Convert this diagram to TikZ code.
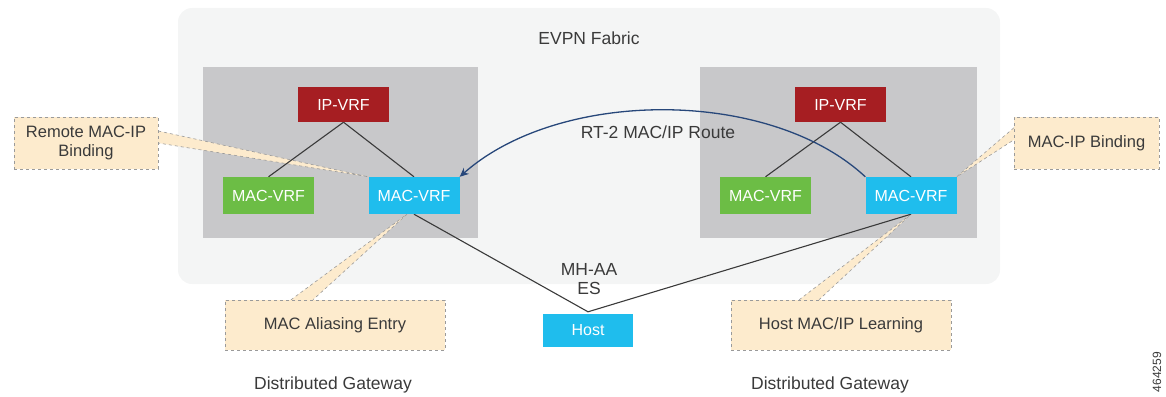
\documentclass[tikz,border=0pt]{standalone}
\usepackage{fontspec}
\setmainfont{Liberation Sans}
\usetikzlibrary{arrows.meta,calc,backgrounds}

\definecolor{fabricbg}{HTML}{F4F5F5}
\definecolor{gwgray}{HTML}{C8C8CA}
\definecolor{ipred}{HTML}{A61E22}
\definecolor{macgreen}{HTML}{6CBD45}
\definecolor{macblue}{HTML}{1FBDED}
\definecolor{callfill}{HTML}{FDEBCD}
\definecolor{callline}{HTML}{9A9A9A}
\definecolor{routeblue}{HTML}{27477A}
\definecolor{txtgray}{HTML}{3A3A3A}

\tikzset{
    vrf/.style={minimum width=91pt,minimum height=37pt,inner sep=0pt,text=white,
        font=\fontsize{16}{19}\selectfont},
    ipvrf/.style={vrf,fill=ipred,minimum height=35pt},
    macg/.style={vrf,fill=macgreen},
    macb/.style={vrf,fill=macblue},
    callout/.style={draw=callline,dashed,fill=callfill,text=txtgray,inner sep=0pt,
        align=center,font=\fontsize{16.5}{19}\selectfont},
    calltail/.style={draw=callline,dashed,fill=callfill,line width=0.6pt},
    wire/.style={draw=txtgray,line width=1.1pt},
    txt/.style={text=txtgray,align=center,font=\fontsize{17.5}{20}\selectfont}
}

\begin{document}
\begin{tikzpicture}[x=1pt,y=-1pt]
    \useasboundingbox (0,0) rectangle (1166,396);
    \begin{pgfonlayer}{background}
        \fill[fabricbg,rounded corners=14pt] (178,8) rectangle (1000,284);
        \fill[gwgray] (203,67) rectangle (478,238);
        \fill[gwgray] (700,67) rectangle (977,238);
    \end{pgfonlayer}
    \node[txt] (fabric) at (589,38) {EVPN Fabric};
    \foreach \s/\dx in {l/0,r/497} {
        \node[ipvrf] (\s ip) at (343.5+\dx,104.5) {IP-VRF};
        \node[macg] (\s macg) at (268.5+\dx,195.5) {MAC-VRF};
        \node[macb] (\s macb) at (414+\dx,195.5) {MAC-VRF};
        \node[txt] (\s gw) at (333+\dx,385) {Distributed Gateway};
    }
    \node[vrf,fill=macblue,minimum width=90pt,minimum height=33pt] (host) at (588,330.5) {Host};
    \node[txt] (es) at (589,279) {MH-AA\\[-1pt]ES};

    \node[callout,minimum width=144pt,minimum height=52pt] (rcall) at (86,143) {Remote MAC-IP\\Binding};
    \node[callout,minimum width=145pt,minimum height=52pt] (bcall) at (1086.5,143) {MAC-IP Binding};
    \node[callout,minimum width=220pt,minimum height=50pt] (acall) at (335,325) {MAC Aliasing Entry};
    \node[callout,minimum width=220pt,minimum height=50pt] (hcall) at (841,325) {Host MAC/IP Learning};

    \begin{pgfonlayer}{background}
        \path[calltail] ($(rcall.north east)!0.27!(rcall.south east)$) -- (lmacb.north west)
            -- ($(rcall.north east)!0.5!(rcall.south east)$);
        \path[calltail] ($(bcall.north west)!0.21!(bcall.south west)$) -- (rmacb.north east)
            -- ($(bcall.north west)!0.44!(bcall.south west)$);
        \path[calltail] ($(acall.north west)!0.3!(acall.north east)$) -- ($(lmacb.south)+(-7,0)$)
            -- ($(acall.north west)!0.4!(acall.north east)$);
        \path[calltail] ($(hcall.north west)!0.31!(hcall.north east)$) -- (rmacb.south)
            -- ($(hcall.north west)!0.4!(hcall.north east)$);
        \foreach \s in {l,r} {
            \draw[wire] (\s ip.south) -- (\s macg.north);
            \draw[wire] (\s ip.south) -- (\s macb.north);
            \draw[wire] (\s macb.south) -- ($(host.north)+(0,-2)$);
        }
    \end{pgfonlayer}

    \draw[routeblue,line width=1.3pt,-{Stealth[length=9pt,width=8pt]}]
        (rmacb.north west) .. controls (770,88) and (560,88) .. (lmacb.north east);
    \node[txt] (route) at (658,132) {RT-2 MAC/IP Route};
    \node[text=txtgray,rotate=90,font=\fontsize{12}{14}\selectfont] (figno) at (1157,372) {464259};
\end{tikzpicture}
\end{document}
